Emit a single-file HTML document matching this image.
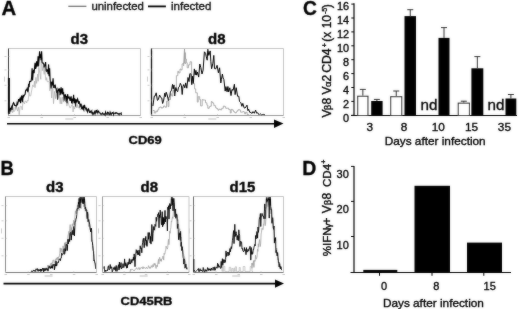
<!DOCTYPE html>
<html><head><meta charset="utf-8"><style>
html,body{margin:0;padding:0;background:#fff;}
body{width:520px;height:309px;overflow:hidden;}
svg{display:block;}
#w{width:520px;height:309px;filter:grayscale(1);}
text{font-family:"Liberation Sans",sans-serif;stroke:#000;stroke-width:0.35px;}
</style></head><body><div id="w">
<svg width="520" height="309" viewBox="0 0 520 309">
<defs><filter id="bl" x="0" y="0" width="520" height="309" filterUnits="userSpaceOnUse"><feGaussianBlur in="SourceGraphic" stdDeviation="0.8" result="b"/><feComposite in="SourceGraphic" in2="b" operator="arithmetic" k1="0" k2="0.65" k3="0.35" k4="0"/></filter></defs>
<rect width="520" height="309" fill="#fff"/>
<g filter="url(#bl)">
<text transform="translate(1.5 15.1)" font-family="Liberation Sans, sans-serif" font-weight="bold" font-size="20.3">A</text>
<path d="M68.3 6.3H86.4" stroke="#6a6a6a" stroke-width="1.2"/>
<text x="91.4" y="9.6" font-family="Liberation Sans, sans-serif" font-size="11.4" fill="#222">uninfected</text>
<path d="M148 6.4H165.9" stroke="#000" stroke-width="1.8"/>
<text x="171" y="9.6" font-family="Liberation Sans, sans-serif" font-size="11.5" fill="#222">infected</text>
<text x="70.5" y="43.6" font-family="Liberation Sans, sans-serif" font-weight="bold" font-size="15">d3</text>
<text x="208" y="43.6" font-family="Liberation Sans, sans-serif" font-weight="bold" font-size="15">d8</text>
<path d="M8.5 48.5H140.5V115.5" fill="none" stroke="#c4c4c4" stroke-width="1"/>
<path d="M8.5 115.5H140.5" stroke="#999" stroke-width="1"/>
<path d="M8.5 48.5V115.5" stroke="#333" stroke-width="1"/>
<path d="M4.5 56.5h2" stroke="#bbb" stroke-width="0.8"/>
<path d="M8.5 56.5h1.5" stroke="#bbb" stroke-width="0.6"/>
<path d="M4.5 69.9h2" stroke="#bbb" stroke-width="0.8"/>
<path d="M8.5 69.9h1.5" stroke="#bbb" stroke-width="0.6"/>
<path d="M4.5 85.3h2" stroke="#bbb" stroke-width="0.8"/>
<path d="M8.5 85.3h1.5" stroke="#bbb" stroke-width="0.6"/>
<path d="M4.5 100.8h2" stroke="#bbb" stroke-width="0.8"/>
<path d="M8.5 100.8h1.5" stroke="#bbb" stroke-width="0.6"/>
<path d="M4.5 76.6v5" stroke="#ccc" stroke-width="1"/>
<path d="M7.5 117.5h2.5" stroke="#bbb" stroke-width="0.8"/>
<path d="M8.5 115.5v-1.5" stroke="#bbb" stroke-width="0.6"/>
<path d="M40.5 117.5h2.5" stroke="#bbb" stroke-width="0.8"/>
<path d="M41.5 115.5v-1.5" stroke="#bbb" stroke-width="0.6"/>
<path d="M73.5 117.5h2.5" stroke="#bbb" stroke-width="0.8"/>
<path d="M74.5 115.5v-1.5" stroke="#bbb" stroke-width="0.6"/>
<path d="M106.5 117.5h2.5" stroke="#bbb" stroke-width="0.8"/>
<path d="M107.5 115.5v-1.5" stroke="#bbb" stroke-width="0.6"/>
<path d="M139.5 117.5h2.5" stroke="#bbb" stroke-width="0.8"/>
<path d="M140.5 115.5v-1.5" stroke="#bbb" stroke-width="0.6"/>
<path d="M65.3 119.0h8" stroke="#c8c8c8" stroke-width="1.2"/>
<path d="M151.5 48.5H283.5V115.5" fill="none" stroke="#c4c4c4" stroke-width="1"/>
<path d="M151.5 115.5H283.5" stroke="#999" stroke-width="1"/>
<path d="M151.5 48.5V115.5" stroke="#111" stroke-width="1.3"/>
<path d="M147.5 56.5h2" stroke="#bbb" stroke-width="0.8"/>
<path d="M151.5 56.5h1.5" stroke="#bbb" stroke-width="0.6"/>
<path d="M147.5 69.9h2" stroke="#bbb" stroke-width="0.8"/>
<path d="M151.5 69.9h1.5" stroke="#bbb" stroke-width="0.6"/>
<path d="M147.5 85.3h2" stroke="#bbb" stroke-width="0.8"/>
<path d="M151.5 85.3h1.5" stroke="#bbb" stroke-width="0.6"/>
<path d="M147.5 100.8h2" stroke="#bbb" stroke-width="0.8"/>
<path d="M151.5 100.8h1.5" stroke="#bbb" stroke-width="0.6"/>
<path d="M147.5 76.6v5" stroke="#ccc" stroke-width="1"/>
<path d="M150.5 117.5h2.5" stroke="#bbb" stroke-width="0.8"/>
<path d="M151.5 115.5v-1.5" stroke="#bbb" stroke-width="0.6"/>
<path d="M183.5 117.5h2.5" stroke="#bbb" stroke-width="0.8"/>
<path d="M184.5 115.5v-1.5" stroke="#bbb" stroke-width="0.6"/>
<path d="M216.5 117.5h2.5" stroke="#bbb" stroke-width="0.8"/>
<path d="M217.5 115.5v-1.5" stroke="#bbb" stroke-width="0.6"/>
<path d="M249.5 117.5h2.5" stroke="#bbb" stroke-width="0.8"/>
<path d="M250.5 115.5v-1.5" stroke="#bbb" stroke-width="0.6"/>
<path d="M282.5 117.5h2.5" stroke="#bbb" stroke-width="0.8"/>
<path d="M283.5 115.5v-1.5" stroke="#bbb" stroke-width="0.6"/>
<path d="M208.3 119.0h8" stroke="#c8c8c8" stroke-width="1.2"/>
<path d="M9.9 113.9 L10.7 112.2 L11.5 110.4 L12.5 112.6 L13.2 107.5 L13.7 111.9 L14.8 111.0 L15.3 107.0 L15.8 109.5 L16.6 107.1 L17.6 111.1 L18.5 107.2 L19.2 114.7 L20.1 106.8 L20.7 106.0 L21.5 106.6 L22.2 109.9 L22.8 103.5 L23.6 101.7 L24.5 104.0 L25.1 101.1 L26.1 101.3 L26.7 102.9 L27.3 100.4 L28.1 101.1 L29.0 92.3 L29.7 96.1 L30.7 95.9 L31.8 89.8 L32.7 84.9 L33.8 86.8 L34.5 81.2 L35.0 87.7 L35.9 77.4 L36.6 83.4 L37.7 74.1 L38.2 81.3 L38.8 67.3 L39.9 73.5 L40.8 79.3 L41.3 53.2 L42.3 70.7 L43.3 66.4 L44.2 74.4 L44.8 64.8 L45.5 78.5 L46.1 80.3 L46.6 77.6 L47.3 81.9 L48.4 81.3 L49.3 82.6 L49.8 90.8 L50.9 84.2 L51.7 98.0 L52.7 83.4 L53.5 103.7 L54.6 91.4 L55.6 98.7 L56.6 88.3 L57.5 99.0 L58.4 97.9 L59.3 94.0 L60.2 103.8 L60.9 97.4 L61.7 104.0 L62.7 97.0 L63.6 102.1 L64.4 100.3 L65.4 101.5 L66.3 101.8 L66.9 106.1 L68.0 101.4 L68.9 105.2 L69.9 107.8 L70.7 107.6 L71.5 105.0 L72.5 104.8 L73.1 112.0 L73.7 106.0 L74.5 109.1 L75.6 104.5 L76.1 107.4 L76.6 107.9 L77.5 104.6 L78.1 108.0 L78.7 107.8 L79.3 106.2 L80.2 109.8 L81.2 109.1 L81.8 107.5 L82.6 109.3 L83.3 108.1 L84.1 112.1 L85.1 108.0 L85.7 107.6 L86.4 111.7 L87.5 109.4 L88.5 109.9 L89.3 111.1 L90.3 112.9 L91.2 111.5 L92.3 109.5 L93.3 113.9 L94.0 115.0 L94.8 110.8 L95.3 113.7 L95.8 113.4 L96.8 112.7 L97.3 115.0 L98.3 113.8 L99.1 114.2 L99.9 113.8 L100.8 114.8 L101.7 115.0 L102.4 113.1 L103.4 115.0 L104.2 114.9 L105.0 114.3 L105.5 115.0 L106.5 114.5 L107.3 114.8 L108.1 114.6 L109.1 114.8 L109.9 115.0" fill="none" stroke="#ababab" stroke-width="0.7"/>
<path d="M8.6 109.1 L9.1 111.0 L9.6 110.0 L10.1 108.9 L10.6 110.4 L11.1 108.3 L11.6 107.0 L12.1 109.9 L12.6 105.3 L13.1 103.4 L13.6 102.6 L14.1 103.7 L14.6 105.4 L15.1 105.3 L15.6 105.4 L16.1 106.4 L16.6 105.7 L17.1 103.0 L17.6 104.1 L18.1 102.2 L18.6 99.0 L19.1 101.7 L19.6 99.5 L20.1 98.4 L20.6 103.1 L21.1 99.8 L21.6 96.3 L22.1 96.8 L22.6 102.1 L23.1 94.9 L23.6 96.7 L24.1 95.8 L24.6 94.8 L25.1 94.3 L25.6 90.7 L26.1 90.0 L26.6 90.1 L27.1 88.7 L27.6 91.1 L28.1 92.2 L28.6 83.9 L29.1 87.3 L29.6 81.5 L30.1 81.3 L30.6 81.6 L31.1 81.0 L31.6 77.5 L32.1 68.3 L32.6 80.4 L33.1 72.9 L33.6 69.9 L34.1 73.1 L34.6 67.0 L35.1 62.7 L35.6 68.8 L36.1 67.3 L36.6 61.3 L37.1 66.7 L37.6 63.7 L38.1 56.2 L38.6 66.4 L39.1 58.8 L39.6 51.3 L40.1 56.5 L40.6 55.6 L41.1 60.1 L41.6 51.4 L42.1 62.4 L42.6 63.0 L43.1 62.9 L43.6 63.6 L44.1 67.4 L44.6 66.1 L45.1 64.8 L45.6 62.1 L46.1 70.7 L46.6 71.3 L47.1 69.8 L47.6 70.4 L48.1 74.3 L48.6 64.4 L49.1 76.3 L49.6 68.4 L50.1 79.6 L50.6 84.0 L51.1 88.4 L51.6 81.7 L52.1 85.1 L52.6 84.2 L53.1 78.2 L53.6 87.9 L54.1 86.2 L54.6 87.1 L55.1 84.6 L55.6 87.8 L56.1 88.6 L56.6 92.6 L57.1 90.2 L57.6 99.8 L58.1 89.1 L58.6 89.9 L59.1 90.6 L59.6 88.5 L60.1 95.1 L60.6 92.7 L61.1 87.4 L61.6 91.4 L62.1 94.5 L62.6 88.2 L63.1 93.2 L63.6 92.9 L64.1 100.4 L64.6 96.1 L65.1 94.8 L65.6 95.0 L66.1 101.4 L66.6 96.0 L67.1 103.1 L67.6 94.2 L68.1 97.9 L68.6 98.1 L69.1 97.2 L69.6 98.5 L70.1 100.8 L70.6 97.9 L71.1 96.3 L71.6 102.8 L72.1 103.3 L72.6 98.5 L73.1 101.1 L73.6 94.9 L74.1 103.2 L74.6 98.3 L75.1 100.3 L75.6 106.4 L76.1 99.3 L76.6 102.4 L77.1 100.4 L77.6 99.0 L78.1 100.8 L78.6 104.0 L79.1 101.2 L79.6 103.3 L80.1 106.4 L80.6 105.3 L81.1 103.8 L81.6 109.1 L82.1 106.9 L82.6 109.5 L83.1 105.5 L83.6 110.5 L84.1 105.7 L84.6 105.4 L85.1 107.8 L85.6 108.2 L86.1 109.6 L86.6 108.6 L87.1 110.7 L87.6 112.0 L88.1 109.5 L88.6 108.9 L89.1 110.6 L89.6 112.4 L90.1 112.6 L90.6 111.4 L91.1 110.8 L91.6 112.2 L92.1 113.5 L92.6 111.8 L93.1 114.2 L93.6 113.2 L94.1 113.2 L94.6 111.9 L95.1 113.9 L95.6 112.2 L96.1 110.1 L96.6 112.7 L97.1 110.9 L97.6 112.6 L98.1 111.5 L98.6 111.2 L99.1 112.7 L99.6 112.7 L100.1 112.9 L100.6 113.7 L101.1 114.4 L101.6 113.7 L102.1 113.6 L102.6 113.1 L103.1 114.2 L103.6 113.9 L104.1 114.5 L104.6 114.0 L105.1 115.0 L105.6 112.2 L106.1 113.6 L106.6 114.1 L107.1 114.4 L107.6 112.3 L108.1 112.5 L108.6 113.6 L109.1 114.6 L109.6 114.6 L110.1 112.3 L110.6 113.8 L111.1 114.7 L111.6 113.7 L112.1 112.7 L112.6 113.0 L113.1 112.4 L113.6 114.7 L114.1 113.4 L114.6 113.3 L115.1 112.8 L115.6 113.5 L116.1 112.8 L116.6 112.8 L117.1 113.6 L117.6 113.4 L118.1 114.1 L118.6 113.8 L119.1 114.7 L119.6 113.6 L120.1 113.9 L120.6 113.8 L121.1 113.1 L121.6 115.0" fill="none" stroke="#000" stroke-width="1.15"/>
<path d="M8.9 78V114" stroke="#000" stroke-width="2"/>
<path d="M152.9 110.5 L154.3 110.5 L154.3 113.0 L155.8 113.0 L155.8 111.0 L156.7 111.0 L156.7 111.6 L157.6 111.6 L157.6 109.8 L158.8 109.8 L158.8 107.6 L159.8 107.6 L159.8 107.0 L161.3 107.0 L161.3 108.1 L162.6 108.1 L162.6 107.5 L163.5 107.5 L163.5 106.0 L165.0 106.0 L165.0 107.2 L166.5 107.2 L166.5 101.2 L168.0 101.2 L168.0 106.6 L168.9 106.6 L168.9 99.5 L170.5 99.5 L170.5 93.8 L171.7 93.8 L171.7 96.0 L172.9 96.0 L172.9 90.3 L173.9 90.3 L173.9 92.4 L174.7 92.4 L174.7 90.1 L176.4 90.1 L176.4 75.7 L177.8 75.7 L177.8 71.3 L178.6 71.3 L178.6 72.9 L180.0 72.9 L180.0 69.0 L180.9 69.0 L180.9 69.9 L182.1 69.9 L182.1 63.9 L183.4 63.9 L183.4 63.1 L184.5 63.1 L184.5 52.8 L185.5 52.8 L185.5 59.1 L186.4 59.1 L186.4 62.7 L187.2 62.7 L187.2 67.8 L188.5 67.8 L188.5 64.8 L190.0 64.8 L190.0 61.8 L191.6 61.8 L191.6 77.1 L193.1 77.1 L193.1 83.6 L194.6 83.6 L194.6 88.9 L195.7 88.9 L195.7 92.8 L197.3 92.8 L197.3 102.1 L198.2 102.1 L198.2 96.7 L199.7 96.7 L199.7 99.6 L200.6 99.6 L200.6 105.9 L202.2 105.9 L202.2 99.6 L203.1 99.6 L203.1 100.0 L204.5 100.0 L204.5 100.0 L205.5 100.0 L205.5 102.8 L206.9 102.8 L206.9 105.2 L207.8 105.2 L207.8 108.3 L209.2 108.3 L209.2 106.9 L210.0 106.9 L210.0 106.2 L211.3 106.2 L211.3 101.5 L212.1 101.5 L212.1 102.5 L213.2 102.5 L213.2 103.6 L213.9 103.6 L213.9 105.7 L215.6 105.7 L215.6 107.8 L216.6 107.8 L216.6 108.6 L217.9 108.6 L217.9 110.1 L219.0 110.1 L219.0 109.2 L220.5 109.2 L220.5 109.9 L221.7 109.9 L221.7 108.3 L223.3 108.3 L223.3 106.1 L224.7 106.1 L224.7 106.7 L225.7 106.7 L225.7 108.3 L227.3 108.3 L227.3 108.2 L228.7 108.2 L228.7 109.6 L230.3 109.6 L230.3 113.0 L231.2 113.0 L231.2 109.4 L232.2 109.4 L232.2 109.8 L233.2 109.8 L233.2 111.0 L233.9 111.0 L233.9 112.0 L235.0 112.0 L235.0 112.8 L236.3 112.8 L236.3 112.0 L237.0 112.0 L237.0 110.8 L238.2 110.8 L238.2 109.6 L239.5 109.6 L239.5 110.1 L240.6 110.1 L240.6 112.2 L241.5 112.2 L241.5 112.0 L243.0 112.0 L243.0 111.6 L243.9 111.6 L243.9 112.1 L244.7 112.1 L244.7 113.9 L245.5 113.9 L245.5 112.3 L247.1 112.3 L247.1 114.5 L248.7 114.5 L248.7 115.0" fill="none" stroke="#999" stroke-width="0.8"/>
<path d="M183.6 66L184.5 49L185.4 64" fill="none" stroke="#999" stroke-width="0.9"/>
<path d="M152.9 106.0 L154.3 96.1 L155.1 96.1 L156.2 92.8 L157.4 100.4 L158.3 99.7 L159.6 95.0 L160.7 97.4 L161.8 98.1 L162.6 103.5 L163.5 101.2 L164.8 93.1 L165.5 96.6 L166.2 92.2 L167.2 95.0 L168.4 100.7 L169.1 96.8 L169.7 96.5 L170.4 92.0 L171.6 90.0 L172.5 84.4 L173.2 89.0 L174.0 84.9 L174.7 96.0 L175.8 87.5 L176.7 90.7 L177.7 91.7 L178.5 87.2 L179.5 86.6 L180.3 83.3 L181.4 85.4 L182.2 94.5 L182.9 86.7 L183.7 84.6 L184.8 87.8 L185.7 82.9 L186.8 88.2 L188.0 77.5 L189.0 81.6 L189.8 73.7 L190.9 73.8 L191.8 84.7 L192.5 76.0 L193.3 83.3 L194.3 68.9 L195.2 74.9 L195.9 70.4 L196.6 75.1 L197.4 72.0 L198.7 77.1 L199.8 64.0 L200.8 67.6 L202.0 74.0 L203.1 70.1 L204.4 51.8 L205.6 53.3 L206.3 56.8 L207.2 60.2 L207.8 49.0 L208.8 55.4 L210.2 50.9 L210.8 61.3 L211.6 68.8 L212.9 63.2 L213.8 55.4 L214.5 68.6 L215.8 68.8 L217.1 65.3 L218.4 72.8 L219.6 67.8 L220.8 83.0 L221.4 79.6 L222.4 74.0 L223.1 78.0 L223.9 79.6 L225.2 91.1 L225.9 86.6 L227.1 91.8 L227.9 86.5 L228.6 91.9 L229.8 87.8 L231.0 95.6 L232.0 89.4 L233.1 90.4 L234.4 84.2 L235.1 94.6 L236.2 87.7 L237.6 96.3 L238.8 96.2 L239.5 101.4 L240.9 102.8 L241.9 106.3 L242.8 103.4 L244.1 107.8 L245.0 108.1 L245.8 107.1 L247.0 105.1 L247.9 110.7 L248.6 109.1 L249.8 112.5 L251.1 112.3 L251.8 113.6 L253.0 111.6 L254.3 113.3 L255.6 110.1 L256.6 113.2 L257.9 112.8 L258.9 114.8 L260.0 113.7 L260.9 114.3 L261.8 115.0 L262.5 114.2 L263.1 115.0 L263.8 114.2 L265.0 115.0" fill="none" stroke="#000" stroke-width="1.0"/>
<path d="M7 123.8H275" stroke="#000" stroke-width="1.6"/>
<path d="M274 119.5L283.5 123.5L274 128Z" fill="#000"/>
<text transform="translate(128.6 143.8) scale(1.1 1)" font-family="Liberation Sans, sans-serif" font-weight="bold" font-size="11.8">CD69</text>
<text transform="translate(0.5 175.1) scale(0.9 1)" font-family="Liberation Sans, sans-serif" font-weight="bold" font-size="20.5">B</text>
<text x="46" y="191.6" font-family="Liberation Sans, sans-serif" font-weight="bold" font-size="15">d3</text>
<text x="140.5" y="191.6" font-family="Liberation Sans, sans-serif" font-weight="bold" font-size="15">d8</text>
<text x="229.5" y="191.6" font-family="Liberation Sans, sans-serif" font-weight="bold" font-size="15">d15</text>
<path d="M5.5 196.5H96.5V272.5" fill="none" stroke="#c4c4c4" stroke-width="1"/>
<path d="M5.5 272.5H96.5" stroke="#777" stroke-width="1"/>
<path d="M5.5 196.5V272.5" stroke="#888" stroke-width="1"/>
<path d="M1.5 205.6h2" stroke="#bbb" stroke-width="0.8"/>
<path d="M5.5 205.6h1.5" stroke="#bbb" stroke-width="0.6"/>
<path d="M1.5 220.8h2" stroke="#bbb" stroke-width="0.8"/>
<path d="M5.5 220.8h1.5" stroke="#bbb" stroke-width="0.6"/>
<path d="M1.5 238.3h2" stroke="#bbb" stroke-width="0.8"/>
<path d="M5.5 238.3h1.5" stroke="#bbb" stroke-width="0.6"/>
<path d="M1.5 255.8h2" stroke="#bbb" stroke-width="0.8"/>
<path d="M5.5 255.8h1.5" stroke="#bbb" stroke-width="0.6"/>
<path d="M1.5 228.4v5" stroke="#ccc" stroke-width="1"/>
<path d="M4.5 274.5h2.5" stroke="#bbb" stroke-width="0.8"/>
<path d="M5.5 272.5v-1.5" stroke="#bbb" stroke-width="0.6"/>
<path d="M27.2 274.5h2.5" stroke="#bbb" stroke-width="0.8"/>
<path d="M28.2 272.5v-1.5" stroke="#bbb" stroke-width="0.6"/>
<path d="M50.0 274.5h2.5" stroke="#bbb" stroke-width="0.8"/>
<path d="M51.0 272.5v-1.5" stroke="#bbb" stroke-width="0.6"/>
<path d="M72.8 274.5h2.5" stroke="#bbb" stroke-width="0.8"/>
<path d="M73.8 272.5v-1.5" stroke="#bbb" stroke-width="0.6"/>
<path d="M95.5 274.5h2.5" stroke="#bbb" stroke-width="0.8"/>
<path d="M96.5 272.5v-1.5" stroke="#bbb" stroke-width="0.6"/>
<path d="M44.6 276.0h8" stroke="#c8c8c8" stroke-width="1.2"/>
<path d="M102.5 196.5H189V272.5" fill="none" stroke="#c4c4c4" stroke-width="1"/>
<path d="M102.5 272.5H189" stroke="#777" stroke-width="1"/>
<path d="M102.5 196.5V272.5" stroke="#999" stroke-width="1"/>
<path d="M98.5 205.6h2" stroke="#bbb" stroke-width="0.8"/>
<path d="M102.5 205.6h1.5" stroke="#bbb" stroke-width="0.6"/>
<path d="M98.5 220.8h2" stroke="#bbb" stroke-width="0.8"/>
<path d="M102.5 220.8h1.5" stroke="#bbb" stroke-width="0.6"/>
<path d="M98.5 238.3h2" stroke="#bbb" stroke-width="0.8"/>
<path d="M102.5 238.3h1.5" stroke="#bbb" stroke-width="0.6"/>
<path d="M98.5 255.8h2" stroke="#bbb" stroke-width="0.8"/>
<path d="M102.5 255.8h1.5" stroke="#bbb" stroke-width="0.6"/>
<path d="M98.5 228.4v5" stroke="#ccc" stroke-width="1"/>
<path d="M101.5 274.5h2.5" stroke="#bbb" stroke-width="0.8"/>
<path d="M102.5 272.5v-1.5" stroke="#bbb" stroke-width="0.6"/>
<path d="M123.1 274.5h2.5" stroke="#bbb" stroke-width="0.8"/>
<path d="M124.1 272.5v-1.5" stroke="#bbb" stroke-width="0.6"/>
<path d="M144.8 274.5h2.5" stroke="#bbb" stroke-width="0.8"/>
<path d="M145.8 272.5v-1.5" stroke="#bbb" stroke-width="0.6"/>
<path d="M166.4 274.5h2.5" stroke="#bbb" stroke-width="0.8"/>
<path d="M167.4 272.5v-1.5" stroke="#bbb" stroke-width="0.6"/>
<path d="M188.0 274.5h2.5" stroke="#bbb" stroke-width="0.8"/>
<path d="M189.0 272.5v-1.5" stroke="#bbb" stroke-width="0.6"/>
<path d="M139.7 276.0h8" stroke="#c8c8c8" stroke-width="1.2"/>
<path d="M193.5 196.5H283.5V272.5" fill="none" stroke="#c4c4c4" stroke-width="1"/>
<path d="M193.5 272.5H283.5" stroke="#777" stroke-width="1"/>
<path d="M193.5 196.5V272.5" stroke="#666" stroke-width="1"/>
<path d="M189.5 205.6h2" stroke="#bbb" stroke-width="0.8"/>
<path d="M193.5 205.6h1.5" stroke="#bbb" stroke-width="0.6"/>
<path d="M189.5 220.8h2" stroke="#bbb" stroke-width="0.8"/>
<path d="M193.5 220.8h1.5" stroke="#bbb" stroke-width="0.6"/>
<path d="M189.5 238.3h2" stroke="#bbb" stroke-width="0.8"/>
<path d="M193.5 238.3h1.5" stroke="#bbb" stroke-width="0.6"/>
<path d="M189.5 255.8h2" stroke="#bbb" stroke-width="0.8"/>
<path d="M193.5 255.8h1.5" stroke="#bbb" stroke-width="0.6"/>
<path d="M189.5 228.4v5" stroke="#ccc" stroke-width="1"/>
<path d="M192.5 274.5h2.5" stroke="#bbb" stroke-width="0.8"/>
<path d="M193.5 272.5v-1.5" stroke="#bbb" stroke-width="0.6"/>
<path d="M215.0 274.5h2.5" stroke="#bbb" stroke-width="0.8"/>
<path d="M216.0 272.5v-1.5" stroke="#bbb" stroke-width="0.6"/>
<path d="M237.5 274.5h2.5" stroke="#bbb" stroke-width="0.8"/>
<path d="M238.5 272.5v-1.5" stroke="#bbb" stroke-width="0.6"/>
<path d="M260.0 274.5h2.5" stroke="#bbb" stroke-width="0.8"/>
<path d="M261.0 272.5v-1.5" stroke="#bbb" stroke-width="0.6"/>
<path d="M282.5 274.5h2.5" stroke="#bbb" stroke-width="0.8"/>
<path d="M283.5 272.5v-1.5" stroke="#bbb" stroke-width="0.6"/>
<path d="M232.2 276.0h8" stroke="#c8c8c8" stroke-width="1.2"/>
<path d="M35.0 271.5 L35.4 271.9 L35.8 270.3 L36.2 270.1 L36.6 270.9 L37.0 271.9 L37.4 270.8 L37.8 269.4 L38.2 269.7 L38.6 270.2 L39.0 270.9 L39.4 270.0 L39.8 269.6 L40.2 269.6 L40.6 269.9 L41.0 269.0 L41.4 269.6 L41.8 269.7 L42.2 270.9 L42.6 269.2 L43.0 270.1 L43.4 268.1 L43.8 269.8 L44.2 269.1 L44.6 268.3 L45.0 268.7 L45.4 269.4 L45.8 267.8 L46.2 269.0 L46.6 269.3 L47.0 269.1 L47.4 268.9 L47.8 265.1 L48.2 266.8 L48.6 265.2 L49.0 267.0 L49.4 265.6 L49.8 265.5 L50.2 265.5 L50.6 263.7 L51.0 264.4 L51.4 262.9 L51.8 266.5 L52.2 262.6 L52.6 262.9 L53.0 259.9 L53.4 260.0 L53.8 260.6 L54.2 262.8 L54.6 262.4 L55.0 261.3 L55.4 259.5 L55.8 263.3 L56.2 258.2 L56.6 258.1 L57.0 260.1 L57.4 257.2 L57.8 259.0 L58.2 259.5 L58.6 257.0 L59.0 257.1 L59.4 255.7 L59.8 253.6 L60.2 247.9 L60.6 250.9 L61.0 252.6 L61.4 248.5 L61.8 250.0 L62.2 250.8 L62.6 252.5 L63.0 245.9 L63.4 247.0 L63.8 247.9 L64.2 247.9 L64.6 242.8 L65.0 249.6 L65.4 242.5 L65.8 246.1 L66.2 241.9 L66.6 242.4 L67.0 244.5 L67.4 241.1 L67.8 238.5 L68.2 234.5 L68.6 234.3 L69.0 231.2 L69.4 239.5 L69.8 228.6 L70.2 224.6 L70.6 235.4 L71.0 233.4 L71.4 227.6 L71.8 230.0 L72.2 224.1 L72.6 223.7 L73.0 225.9 L73.4 224.4 L73.8 220.1 L74.2 225.0 L74.6 220.5 L75.0 216.9 L75.4 210.9 L75.8 213.6 L76.2 210.4 L76.6 209.5 L77.0 210.9 L77.4 204.9 L77.8 206.7 L78.2 207.4 L78.6 204.6 L79.0 210.4 L79.4 197.0 L79.8 199.5 L80.2 197.0 L80.6 199.1 L81.0 208.7 L81.4 197.0 L81.8 198.6 L82.2 202.2 L82.6 200.3 L83.0 203.5 L83.4 197.0 L83.8 206.8 L84.2 201.5 L84.6 202.2 L85.0 210.1 L85.4 211.3 L85.8 208.8 L86.2 210.1 L86.6 213.8 L87.0 216.1 L87.4 217.1 L87.8 216.1 L88.2 213.6 L88.6 226.5 L89.0 224.6 L89.4 222.5 L89.8 223.7 L90.2 228.5 L90.6 231.4 L91.0 228.9 L91.4 240.6 L91.8 240.1 L92.2 240.9 L92.6 245.7 L93.0 248.6 L93.4 253.5 L93.8 254.7 L94.2 259.9 L94.6 263.2 L95.0 262.9 L95.4 265.4 L95.8 267.8" fill="none" stroke="#a0a0a0" stroke-width="0.8"/>
<path d="M31.2 271.4 L31.6 270.8 L32.0 272.0 L32.4 271.3 L32.8 271.0 L33.2 271.2 L33.6 270.3 L34.0 270.1 L34.4 271.2 L34.8 270.3 L35.2 271.4 L35.6 270.4 L36.0 268.9 L36.4 269.3 L36.8 269.7 L37.2 268.5 L37.6 270.3 L38.0 270.1 L38.4 271.3 L38.8 269.4 L39.2 270.0 L39.6 270.8 L40.0 270.9 L40.4 269.0 L40.8 271.6 L41.2 269.2 L41.6 271.1 L42.0 269.4 L42.4 269.2 L42.8 268.1 L43.2 269.3 L43.6 272.0 L44.0 268.5 L44.4 271.0 L44.8 270.7 L45.2 268.5 L45.6 270.3 L46.0 270.5 L46.4 268.3 L46.8 268.0 L47.2 270.0 L47.6 268.9 L48.0 271.2 L48.4 268.8 L48.8 266.6 L49.2 267.9 L49.6 266.1 L50.0 268.6 L50.4 268.4 L50.8 266.6 L51.2 265.7 L51.6 268.1 L52.0 266.0 L52.4 268.3 L52.8 264.6 L53.2 265.5 L53.6 264.9 L54.0 263.9 L54.4 269.9 L54.8 268.0 L55.2 263.9 L55.6 266.0 L56.0 261.0 L56.4 266.1 L56.8 265.4 L57.2 262.3 L57.6 261.9 L58.0 262.6 L58.4 262.6 L58.8 260.6 L59.2 259.1 L59.6 259.6 L60.0 258.6 L60.4 260.6 L60.8 258.4 L61.2 258.1 L61.6 253.0 L62.0 255.3 L62.4 254.6 L62.8 253.7 L63.2 253.9 L63.6 252.6 L64.0 248.6 L64.4 254.3 L64.8 253.4 L65.2 248.7 L65.6 251.1 L66.0 245.8 L66.4 244.0 L66.8 246.2 L67.2 250.6 L67.6 244.7 L68.0 239.3 L68.4 243.9 L68.8 240.4 L69.2 238.9 L69.6 241.5 L70.0 233.6 L70.4 232.5 L70.8 232.5 L71.2 240.1 L71.6 235.5 L72.0 231.8 L72.4 230.3 L72.8 234.0 L73.2 235.0 L73.6 226.5 L74.0 229.0 L74.4 235.9 L74.8 227.4 L75.2 221.4 L75.6 221.7 L76.0 218.3 L76.4 218.3 L76.8 214.6 L77.2 208.5 L77.6 208.5 L78.0 209.0 L78.4 202.4 L78.8 204.2 L79.2 198.2 L79.6 207.4 L80.0 208.0 L80.4 197.0 L80.8 202.7 L81.2 198.7 L81.6 198.5 L82.0 197.1 L82.4 199.8 L82.8 203.5 L83.2 197.0 L83.6 204.0 L84.0 199.2 L84.4 197.1 L84.8 203.8 L85.2 208.8 L85.6 207.2 L86.0 210.7 L86.4 209.7 L86.8 210.4 L87.2 218.6 L87.6 212.0 L88.0 221.7 L88.4 220.5 L88.8 219.6 L89.2 222.0 L89.6 224.2 L90.0 227.6 L90.4 229.9 L90.8 232.0 L91.2 228.1 L91.6 230.4 L92.0 241.9 L92.4 242.2 L92.8 245.8 L93.2 250.3 L93.6 251.2 L94.0 260.9 L94.4 259.9 L94.8 262.1 L95.2 263.2 L95.6 268.9" fill="none" stroke="#000" stroke-width="1.0"/>
<path d="M130.1 272.0 L130.5 269.2 L130.9 270.4 L131.3 269.8 L131.7 269.2 L132.1 269.4 L132.5 269.4 L132.9 269.7 L133.3 270.1 L133.7 270.6 L134.1 269.8 L134.5 270.6 L134.9 269.9 L135.3 269.5 L135.7 269.1 L136.1 268.4 L136.5 267.7 L136.9 269.1 L137.3 268.9 L137.7 269.3 L138.1 269.3 L138.5 267.7 L138.9 268.1 L139.3 267.7 L139.7 269.7 L140.1 268.6 L140.5 268.7 L140.9 267.6 L141.3 267.2 L141.7 267.8 L142.1 268.3 L142.5 268.8 L142.9 266.7 L143.3 268.6 L143.7 267.2 L144.1 267.5 L144.5 267.7 L144.9 267.5 L145.3 268.4 L145.7 268.8 L146.1 268.2 L146.5 267.2 L146.9 268.2 L147.3 268.1 L147.7 268.6 L148.1 267.8 L148.5 265.7 L148.9 266.6 L149.3 266.9 L149.7 268.4 L150.1 267.1 L150.5 268.3 L150.9 267.4 L151.3 265.6 L151.7 266.9 L152.1 267.4 L152.5 267.1 L152.9 264.6 L153.3 266.8 L153.7 265.4 L154.1 263.4 L154.5 265.2 L154.9 263.3 L155.3 264.0 L155.7 267.4 L156.1 268.5 L156.5 266.3 L156.9 265.1 L157.3 266.8 L157.7 264.2 L158.1 261.9 L158.5 259.3 L158.9 263.9 L159.3 258.7 L159.7 257.3 L160.1 260.3 L160.5 261.1 L160.9 258.9 L161.3 261.4 L161.7 258.9 L162.1 258.7 L162.5 258.5 L162.9 256.0 L163.3 256.7 L163.7 260.1 L164.1 253.2 L164.5 254.4 L164.9 254.1 L165.3 250.8 L165.7 250.8 L166.1 246.1 L166.5 247.7 L166.9 247.7 L167.3 249.1 L167.7 247.7 L168.1 242.6 L168.5 239.3 L168.9 244.7 L169.3 240.4 L169.7 231.1 L170.1 233.3 L170.5 229.5 L170.9 227.4 L171.3 221.2 L171.7 222.1 L172.1 218.9 L172.5 216.9 L172.9 218.4 L173.3 213.2 L173.7 205.8 L174.1 202.2 L174.5 206.9 L174.9 213.1 L175.3 212.8 L175.7 208.8 L176.1 216.8 L176.5 216.3 L176.9 214.9 L177.3 220.2 L177.7 220.7 L178.1 219.6 L178.5 223.9 L178.9 227.8 L179.3 233.3 L179.7 228.7 L180.1 234.4 L180.5 235.9 L180.9 237.8 L181.3 237.0 L181.7 245.3 L182.1 247.5 L182.5 250.2 L182.9 249.7 L183.3 254.0 L183.7 254.1 L184.1 257.1 L184.5 256.8 L184.9 260.0 L185.3 261.3 L185.7 262.5 L186.1 265.6 L186.5 266.6 L186.9 268.0 L187.3 270.0" fill="none" stroke="#a0a0a0" stroke-width="0.8"/>
<path d="M103.8 268.6 L104.2 266.4 L104.6 271.5 L105.0 272.0 L105.4 270.0 L105.8 271.3 L106.2 271.3 L106.6 270.5 L107.0 270.5 L107.4 271.0 L107.8 268.5 L108.2 266.2 L108.6 265.8 L109.0 270.0 L109.4 269.6 L109.8 268.7 L110.2 264.5 L110.6 268.2 L111.0 268.5 L111.4 266.8 L111.8 267.1 L112.2 272.0 L112.6 271.0 L113.0 269.9 L113.4 269.0 L113.8 267.5 L114.2 267.6 L114.6 269.6 L115.0 266.6 L115.4 267.8 L115.8 271.3 L116.2 265.5 L116.6 266.4 L117.0 271.4 L117.4 268.6 L117.8 268.1 L118.2 265.9 L118.6 264.7 L119.0 270.0 L119.4 262.0 L119.8 268.3 L120.2 266.1 L120.6 266.9 L121.0 262.6 L121.4 268.9 L121.8 268.2 L122.2 267.4 L122.6 267.7 L123.0 263.6 L123.4 267.0 L123.8 267.6 L124.2 266.2 L124.6 258.9 L125.0 265.7 L125.4 265.9 L125.8 262.7 L126.2 265.4 L126.6 268.2 L127.0 264.5 L127.4 267.9 L127.8 262.9 L128.2 262.1 L128.6 264.5 L129.0 261.1 L129.4 258.7 L129.8 264.0 L130.2 262.8 L130.6 264.1 L131.0 259.5 L131.4 260.3 L131.8 262.7 L132.2 259.3 L132.6 259.7 L133.0 260.7 L133.4 257.2 L133.8 260.0 L134.2 253.9 L134.6 260.0 L135.0 266.8 L135.4 259.2 L135.8 254.9 L136.2 249.7 L136.6 250.6 L137.0 253.2 L137.4 250.6 L137.8 254.8 L138.2 252.8 L138.6 254.6 L139.0 250.1 L139.4 253.8 L139.8 255.8 L140.2 245.8 L140.6 248.7 L141.0 248.2 L141.4 247.9 L141.8 252.8 L142.2 245.8 L142.6 242.6 L143.0 239.7 L143.4 238.3 L143.8 243.8 L144.2 247.7 L144.6 242.9 L145.0 238.2 L145.4 240.6 L145.8 236.4 L146.2 245.3 L146.6 240.3 L147.0 246.4 L147.4 241.8 L147.8 241.1 L148.2 232.5 L148.6 239.3 L149.0 234.1 L149.4 232.6 L149.8 235.9 L150.2 243.0 L150.6 236.4 L151.0 244.1 L151.4 236.2 L151.8 224.5 L152.2 228.5 L152.6 241.3 L153.0 233.5 L153.4 230.1 L153.8 226.5 L154.2 229.5 L154.6 230.2 L155.0 224.3 L155.4 225.4 L155.8 226.4 L156.2 217.3 L156.6 221.3 L157.0 217.3 L157.4 216.9 L157.8 214.3 L158.2 214.9 L158.6 212.6 L159.0 227.8 L159.4 214.9 L159.8 217.9 L160.2 210.1 L160.6 215.7 L161.0 217.2 L161.4 224.3 L161.8 224.9 L162.2 211.7 L162.6 226.9 L163.0 217.0 L163.4 225.2 L163.8 218.1 L164.2 223.9 L164.6 218.5 L165.0 210.4 L165.4 222.0 L165.8 216.2 L166.2 217.0 L166.6 218.8 L167.0 219.4 L167.4 231.0 L167.8 207.2 L168.2 209.7 L168.6 205.7 L169.0 219.1 L169.4 207.3 L169.8 203.5 L170.2 209.0 L170.6 204.6 L171.0 206.0 L171.4 197.0 L171.8 200.1 L172.2 204.9 L172.6 197.3 L173.0 210.9 L173.4 202.3 L173.8 198.2 L174.2 202.3 L174.6 211.1 L175.0 216.8 L175.4 209.2 L175.8 218.3 L176.2 214.9 L176.6 213.9 L177.0 215.9 L177.4 228.5 L177.8 223.9 L178.2 229.5 L178.6 239.7 L179.0 238.1 L179.4 232.8 L179.8 235.6 L180.2 240.4 L180.6 231.3 L181.0 246.4 L181.4 242.2 L181.8 250.7 L182.2 246.7 L182.6 250.4 L183.0 256.9 L183.4 258.3 L183.8 264.1 L184.2 258.8 L184.6 260.6 L185.0 268.2 L185.4 266.9 L185.8 264.0 L186.2 266.5 L186.6 269.1 L187.0 268.4 L187.4 268.1" fill="none" stroke="#000" stroke-width="0.9"/>
<path d="M251.5 263.1 L251.9 268.3 L252.3 265.5 L252.7 262.9 L253.1 265.5 L253.5 260.6 L253.9 267.4 L254.3 262.7 L254.7 260.2 L255.1 261.3 L255.5 255.2 L255.9 258.8 L256.3 259.1 L256.7 258.2 L257.1 255.9 L257.5 249.1 L257.9 251.4 L258.3 243.8 L258.7 247.1 L259.1 242.2 L259.5 239.6 L259.9 243.3 L260.3 246.5 L260.7 243.1 L261.1 234.0 L261.5 232.2 L261.9 228.3 L262.3 228.2 L262.7 229.6 L263.1 229.5 L263.5 223.9 L263.9 224.3 L264.3 217.2 L264.7 218.5 L265.1 225.7 L265.5 224.3 L265.9 218.5 L266.3 213.9 L266.7 212.2 L267.1 205.1 L267.5 200.0 L267.9 206.6 L268.3 197.0 L268.7 205.1 L269.1 197.3 L269.5 203.9 L269.9 213.8 L270.3 210.3 L270.7 209.3 L271.1 213.8 L271.5 207.6 L271.9 222.4 L272.3 216.8 L272.7 219.4 L273.1 222.7 L273.5 229.2 L273.9 229.1 L274.3 232.5 L274.7 239.9 L275.1 241.9 L275.5 248.6 L275.9 250.0 L276.3 253.4 L276.7 248.1 L277.1 253.8 L277.5 257.0 L277.9 259.9 L278.3 258.8 L278.7 263.0 L279.1 265.6 L279.5 262.5 L279.9 263.8 L280.3 265.1 L280.7 267.9 L281.1 267.0 L281.5 269.7 L281.9 270.3" fill="none" stroke="#a0a0a0" stroke-width="0.8"/>
<path d="M222.0 271.5 V267.0 H222.8 V271.5 H223.3 V266.3 H224.8 V271.5 H225.9 H227.6 H229.2 V267.3 H230.7 V271.5 H231.7 V268.5 H232.9 V271.5 H233.8 V268.3 H234.7 V271.5 H235.2 V266.8 H236.5 V271.5 H237.3 H239.2 V267.5 H240.3 V271.5 H240.9 H243.2 V266.5 H244.9 V271.5 H246.0 H248.9 H250.2 V266.5 H252.0 V271.5 H253.1" fill="none" stroke="#b4b4b4" stroke-width="0.7"/>
<path d="M194.0 271.0 L194.4 270.3 L194.8 271.3 L195.2 272.0 L195.6 272.0 L196.0 271.4 L196.4 270.8 L196.8 270.4 L197.2 270.2 L197.6 269.5 L198.0 268.8 L198.4 268.5 L198.8 271.6 L199.2 270.4 L199.6 271.5 L200.0 268.7 L200.4 270.6 L200.8 270.2 L201.2 271.0 L201.6 269.9 L202.0 271.3 L202.4 271.3 L202.8 271.7 L203.2 267.5 L203.6 268.6 L204.0 271.7 L204.4 272.0 L204.8 270.6 L205.2 269.5 L205.6 271.4 L206.0 270.1 L206.4 270.1 L206.8 271.5 L207.2 269.9 L207.6 267.6 L208.0 268.8 L208.4 270.5 L208.8 268.6 L209.2 270.1 L209.6 268.9 L210.0 270.3 L210.4 268.8 L210.8 270.7 L211.2 269.0 L211.6 268.0 L212.0 270.1 L212.4 269.9 L212.8 269.5 L213.2 267.2 L213.6 268.5 L214.0 270.4 L214.4 269.2 L214.8 266.8 L215.2 270.3 L215.6 268.9 L216.0 267.9 L216.4 267.0 L216.8 267.4 L217.2 268.2 L217.6 263.2 L218.0 266.4 L218.4 264.5 L218.8 267.4 L219.2 266.6 L219.6 266.0 L220.0 266.3 L220.4 268.4 L220.8 268.5 L221.2 261.4 L221.6 267.5 L222.0 263.4 L222.4 258.7 L222.8 265.3 L223.2 259.8 L223.6 259.7 L224.0 263.0 L224.4 259.7 L224.8 260.1 L225.2 262.4 L225.6 259.6 L226.0 250.9 L226.4 256.5 L226.8 253.3 L227.2 252.9 L227.6 252.2 L228.0 255.9 L228.4 254.4 L228.8 252.2 L229.2 255.2 L229.6 251.0 L230.0 248.5 L230.4 251.8 L230.8 249.0 L231.2 246.7 L231.6 248.6 L232.0 245.2 L232.4 240.7 L232.8 237.8 L233.2 234.0 L233.6 230.6 L234.0 243.6 L234.4 234.4 L234.8 224.3 L235.2 236.5 L235.6 233.7 L236.0 231.7 L236.4 233.6 L236.8 235.9 L237.2 240.1 L237.6 235.6 L238.0 236.7 L238.4 240.6 L238.8 229.8 L239.2 233.7 L239.6 235.2 L240.0 246.5 L240.4 242.5 L240.8 241.1 L241.2 243.1 L241.6 242.5 L242.0 248.9 L242.4 248.4 L242.8 250.7 L243.2 251.2 L243.6 251.9 L244.0 250.6 L244.4 247.5 L244.8 250.7 L245.2 249.5 L245.6 250.1 L246.0 254.7 L246.4 247.6 L246.8 252.3 L247.2 252.0 L247.6 250.9 L248.0 249.3 L248.4 251.2 L248.8 250.6 L249.2 248.2 L249.6 248.5 L250.0 246.3 L250.4 250.1 L250.8 260.1 L251.2 247.5 L251.6 254.3 L252.0 251.7 L252.4 254.3 L252.8 253.4 L253.2 249.3 L253.6 249.7 L254.0 247.2 L254.4 245.8 L254.8 244.4 L255.2 246.0 L255.6 235.5 L256.0 239.0 L256.4 237.0 L256.8 231.6 L257.2 232.6 L257.6 238.2 L258.0 227.0 L258.4 232.4 L258.8 229.6 L259.2 219.9 L259.6 217.3 L260.0 216.9 L260.4 213.5 L260.8 226.6 L261.2 216.5 L261.6 216.5 L262.0 213.4 L262.4 215.3 L262.8 216.0 L263.2 215.9 L263.6 217.3 L264.0 218.9 L264.4 211.7 L264.8 203.9 L265.2 218.8 L265.6 209.7 L266.0 206.4 L266.4 197.4 L266.8 202.3 L267.2 199.8 L267.6 201.1 L268.0 197.6 L268.4 199.7 L268.8 197.9 L269.2 218.1 L269.6 197.0 L270.0 205.3 L270.4 197.0 L270.8 209.5 L271.2 209.3 L271.6 209.4 L272.0 223.3 L272.4 218.6 L272.8 217.8 L273.2 227.8 L273.6 229.3 L274.0 226.0 L274.4 243.1 L274.8 238.3 L275.2 240.7 L275.6 237.6 L276.0 252.6 L276.4 250.2 L276.8 253.8 L277.2 256.0 L277.6 252.5 L278.0 256.3 L278.4 262.5 L278.8 262.0 L279.2 267.0 L279.6 263.8 L280.0 267.9 L280.4 268.9 L280.8 266.4 L281.2 268.0 L281.6 270.1" fill="none" stroke="#000" stroke-width="0.9"/>
<path d="M193.8 259V272" stroke="#222" stroke-width="1.2"/>
<path d="M3.5 283.6H276" stroke="#000" stroke-width="1.6"/>
<path d="M275 279.4L284 283.6L275 287.8Z" fill="#000"/>
<text transform="translate(120.6 305) scale(1.1 1)" font-family="Liberation Sans, sans-serif" font-weight="bold" font-size="11.8">CD45RB</text>
<text transform="translate(302.9 14.7) scale(0.97 1)" font-family="Liberation Sans, sans-serif" font-weight="bold" font-size="19.8">C</text>
<path d="M354 3.3V115.8" stroke="#000" stroke-width="1.2"/>
<path d="M351.3 115.3H354" stroke="#000" stroke-width="1"/>
<text x="349" y="121.6" font-family="Liberation Sans, sans-serif" font-size="10.9" text-anchor="end">0</text>
<path d="M351.3 101.4H354" stroke="#000" stroke-width="1"/>
<text x="349" y="107.7" font-family="Liberation Sans, sans-serif" font-size="10.9" text-anchor="end">2</text>
<path d="M351.3 87.5H354" stroke="#000" stroke-width="1"/>
<text x="349" y="93.8" font-family="Liberation Sans, sans-serif" font-size="10.9" text-anchor="end">4</text>
<path d="M351.3 73.6H354" stroke="#000" stroke-width="1"/>
<text x="349" y="79.9" font-family="Liberation Sans, sans-serif" font-size="10.9" text-anchor="end">6</text>
<path d="M351.3 59.7H354" stroke="#000" stroke-width="1"/>
<text x="349" y="66.0" font-family="Liberation Sans, sans-serif" font-size="10.9" text-anchor="end">8</text>
<path d="M351.3 45.8H354" stroke="#000" stroke-width="1"/>
<text x="349" y="52.1" font-family="Liberation Sans, sans-serif" font-size="10.9" text-anchor="end">10</text>
<path d="M351.3 31.9H354" stroke="#000" stroke-width="1"/>
<text x="349" y="38.2" font-family="Liberation Sans, sans-serif" font-size="10.9" text-anchor="end">12</text>
<path d="M351.3 18.0H354" stroke="#000" stroke-width="1"/>
<text x="349" y="24.3" font-family="Liberation Sans, sans-serif" font-size="10.9" text-anchor="end">14</text>
<path d="M351.3 4.1H354" stroke="#000" stroke-width="1"/>
<text x="349" y="10.4" font-family="Liberation Sans, sans-serif" font-size="10.9" text-anchor="end">16</text>
<path d="M351 115.5H517" stroke="#000" stroke-width="1.2"/>
<rect x="357.7" y="96.2" width="10.300000000000011" height="19.299999999999997" fill="#fff" stroke="#000" stroke-width="1"/>
<path d="M362.85 95.7V89.4M359.85 89.4H365.85" stroke="#333" stroke-width="1"/>
<rect x="371.2" y="101" width="11.400000000000034" height="14.5" fill="#000"/>
<path d="M376.9 101V99.4M373.9 99.4H379.9" stroke="#333" stroke-width="1"/>
<rect x="390.7" y="96.7" width="11.100000000000023" height="18.799999999999997" fill="#fff" stroke="#000" stroke-width="1"/>
<path d="M396.25 96.2V91M393.25 91H399.25" stroke="#333" stroke-width="1"/>
<rect x="404.5" y="16.1" width="11.5" height="99.4" fill="#000"/>
<path d="M410.25 16.1V9.7M407.25 9.7H413.25" stroke="#333" stroke-width="1"/>
<rect x="438.5" y="37.9" width="11.0" height="77.6" fill="#000"/>
<path d="M444.0 37.9V27.6M441.0 27.6H447.0" stroke="#333" stroke-width="1"/>
<rect x="458.2" y="103.1" width="11.199999999999989" height="12.400000000000006" fill="#fff" stroke="#000" stroke-width="1"/>
<path d="M463.79999999999995 102.6V101.2M460.79999999999995 101.2H466.79999999999995" stroke="#333" stroke-width="1"/>
<rect x="471.4" y="68.3" width="11.900000000000034" height="47.2" fill="#000"/>
<path d="M477.35 68.3V56.6M474.35 56.6H480.35" stroke="#333" stroke-width="1"/>
<rect x="505.5" y="98.5" width="10.799999999999955" height="17.0" fill="#000"/>
<path d="M510.9 98.5V94.5M507.9 94.5H513.9" stroke="#333" stroke-width="1"/>
<text x="420.6" y="110" font-family="Liberation Sans, sans-serif" font-size="15.2">nd</text>
<text x="487.6" y="110" font-family="Liberation Sans, sans-serif" font-size="15.2">nd</text>
<text x="369.9" y="130.7" font-family="Liberation Sans, sans-serif" font-size="11.8" text-anchor="middle">3</text>
<text x="404" y="130.7" font-family="Liberation Sans, sans-serif" font-size="11.8" text-anchor="middle">8</text>
<text x="438.2" y="130.7" font-family="Liberation Sans, sans-serif" font-size="11.8" text-anchor="middle">10</text>
<text x="471.6" y="130.7" font-family="Liberation Sans, sans-serif" font-size="11.8" text-anchor="middle">15</text>
<text x="504.4" y="130.7" font-family="Liberation Sans, sans-serif" font-size="11.8" text-anchor="middle">35</text>
<text x="435.2" y="144.6" font-family="Liberation Sans, sans-serif" font-size="11.8" text-anchor="middle">Days after infection</text>
<text transform="translate(331.4 117.5) rotate(-90)" font-family="Liberation Sans, sans-serif" font-size="12"><tspan x="0" y="0">V</tspan><tspan x="7.3" font-size="9.5">β</tspan><tspan x="13">8</tspan><tspan x="23">V</tspan><tspan x="30.4" font-size="9.8">α</tspan><tspan x="36.1">2</tspan><tspan x="44.7" font-size="12.2">CD4</tspan><tspan x="70.3" y="-4.5" font-size="7">+</tspan><tspan x="75.8" y="0">(x 10</tspan><tspan x="103.5" y="-4.5" font-size="7">-5</tspan><tspan x="109.2" y="0">)</tspan></text>
<text transform="translate(302.3 175.3) scale(0.95 1)" font-family="Liberation Sans, sans-serif" font-weight="bold" font-size="20.5">D</text>
<path d="M354 166V273" stroke="#000" stroke-width="1.2"/>
<path d="M351 166.4H354" stroke="#000" stroke-width="1"/>
<text x="348.8" y="178.4" font-family="Liberation Sans, sans-serif" font-size="11" text-anchor="end">30</text>
<path d="M351 201.4H354" stroke="#000" stroke-width="1"/>
<text x="348.8" y="213.4" font-family="Liberation Sans, sans-serif" font-size="11" text-anchor="end">20</text>
<path d="M351 236.5H354" stroke="#000" stroke-width="1"/>
<text x="348.8" y="248.5" font-family="Liberation Sans, sans-serif" font-size="11" text-anchor="end">10</text>
<path d="M350.5 272.5H511" stroke="#000" stroke-width="1.2"/>
<rect x="363.3" y="269.9" width="34" height="2.6" fill="#000"/>
<rect x="414.5" y="185.8" width="35.5" height="86.7" fill="#000"/>
<rect x="467" y="242.6" width="35" height="29.9" fill="#000"/>
<path d="M379.5 272.5V275.8" stroke="#000" stroke-width="1"/>
<path d="M432 272.5V275.8" stroke="#000" stroke-width="1"/>
<path d="M483.8 272.5V275.8" stroke="#000" stroke-width="1"/>
<text x="384" y="290.2" font-family="Liberation Sans, sans-serif" font-size="11" text-anchor="middle">0</text>
<text x="436.4" y="290.2" font-family="Liberation Sans, sans-serif" font-size="11" text-anchor="middle">8</text>
<text x="489.7" y="290.2" font-family="Liberation Sans, sans-serif" font-size="11" text-anchor="middle">15</text>
<text x="433.4" y="306.5" font-family="Liberation Sans, sans-serif" font-size="11.8" text-anchor="middle">Days after infection</text>
<text transform="translate(330.8 257) rotate(-90)" font-family="Liberation Sans, sans-serif" font-size="12"><tspan x="0.7" y="0" font-size="11.6">%IFN</tspan><tspan x="29.1" font-size="9">γ</tspan><tspan x="32.5">+</tspan><tspan x="43.7">V</tspan><tspan x="51.8" font-size="9.5">β</tspan><tspan x="57.5">8</tspan><tspan x="69.9" font-size="11.6">CD4</tspan><tspan x="93.3" y="-4.5" font-size="7">+</tspan></text>
</g>
</svg></div>
</body></html>
